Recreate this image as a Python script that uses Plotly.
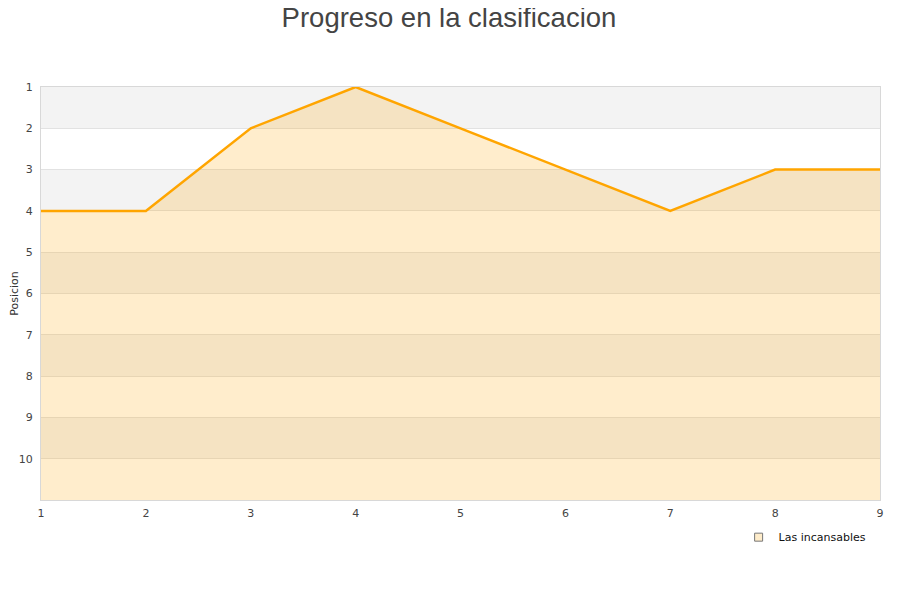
import plotly.graph_objects as go

jornadas = [1, 2, 3, 4, 5, 6, 7, 8, 9]
posicion = [4, 4, 2, 1, 2, 3, 4, 3, 3]
equipo = "Las incansables"
y_ticks = [1, 2, 3, 4, 5, 6, 7, 8, 9, 10]
bottom_pos = 11

fig = go.Figure()

# baseline for fill
fig.add_trace(go.Scatter(x=jornadas, y=[bottom_pos] * len(jornadas), mode="lines",
                         line=dict(width=0, color="rgba(0,0,0,0)"), showlegend=False,
                         hoverinfo="skip"))
fig.add_trace(go.Scatter(x=jornadas, y=posicion, mode="lines", fill="tonexty",
                         fillcolor="rgba(255,165,0,0.2)",
                         line=dict(color="#ffa500", width=2.5), showlegend=False,
                         name=equipo))
# legend entry
fig.add_trace(go.Scatter(x=[None], y=[None], mode="markers", name=equipo,
                         marker=dict(symbol="square", size=8, color="#feecca",
                                     line=dict(color="#777", width=1))))

shapes = []
for i in range(0, len(y_ticks), 2):
    shapes.append(dict(type="rect", xref="paper", yref="y", x0=0, x1=1,
                       y0=y_ticks[i], y1=y_ticks[i] + 1, fillcolor="#f3f3f3",
                       line=dict(width=0), layer="below"))

fig.update_layout(
    width=900, height=600,
    margin=dict(l=33, r=28, t=79, b=108, autoexpand=False),
    paper_bgcolor="white", plot_bgcolor="white",
    title=dict(text="Progreso en la clasificacion", x=0.49, xanchor="center",
               y=0.984, yanchor="middle",
               font=dict(family="Liberation Sans", size=27.5, color="#444")),
    font=dict(family="DejaVu Sans", size=11, color="#444"),
    shapes=shapes,
    showlegend=True,
    legend=dict(x=0.99, xanchor="right", y=-0.09, yanchor="middle",
                bgcolor="rgba(255,255,255,0)", font=dict(size=11, color="#111"),
                itemwidth=30),
    xaxis=dict(range=[1, 9], tickvals=jornadas, showgrid=False, zeroline=False,
               showline=True, linecolor="#d8d8d8", linewidth=1, mirror=True,
               ticks="", automargin=False, ticklabelstandoff=3,
               tickfont=dict(size=11, color="#444")),
    yaxis=dict(range=[bottom_pos, 1], tickvals=y_ticks, showgrid=True,
               gridcolor="#e2e2e2", zeroline=False, showline=True,
               linecolor="#d8d8d8", linewidth=1, mirror=True, ticks="",
               automargin=False, ticklabelstandoff=5,
               tickfont=dict(size=11, color="#444"),
               title=dict(text="Posicion", font=dict(size=11, color="#333"), standoff=8)),
)

fig.write_html("out.html")
